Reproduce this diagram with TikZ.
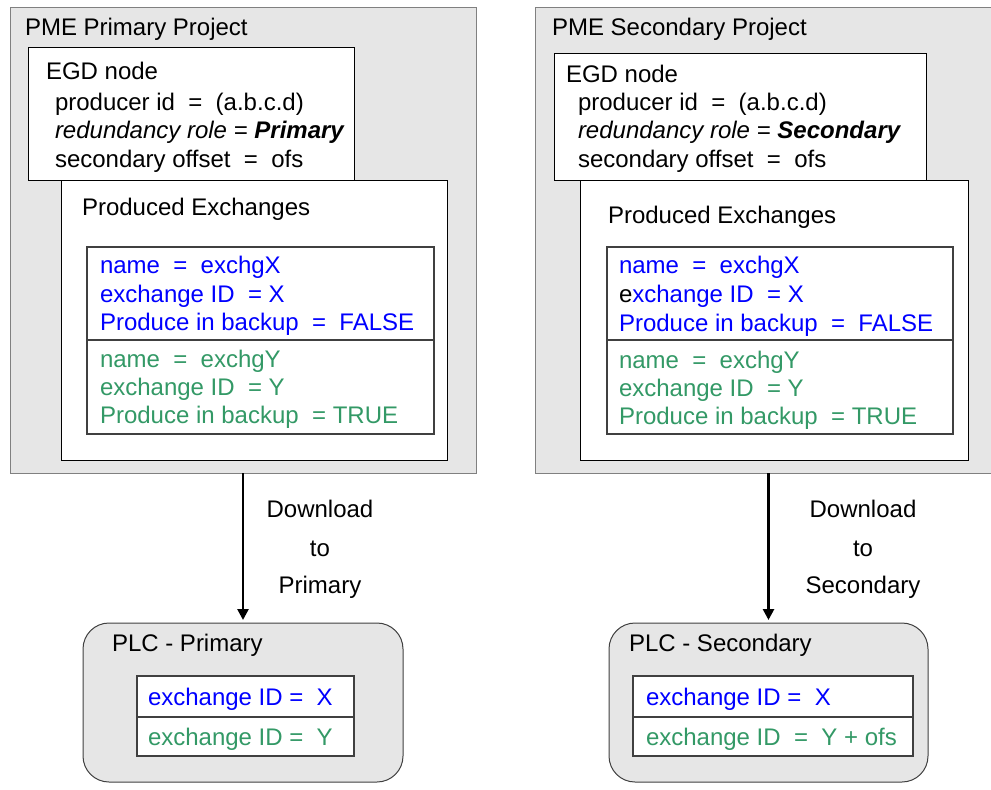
\documentclass[tikz,border=0pt]{standalone}
\usepackage{fontspec}
\setmainfont{Liberation Sans}
\usetikzlibrary{arrows.meta}
\definecolor{colX}{RGB}{0,0,255}
\definecolor{colY}{RGB}{51,153,102}
\definecolor{colBG}{RGB}{230,230,230}
\definecolor{colEdge}{RGB}{128,128,128}
\definecolor{colDark}{RGB}{64,64,64}

\begin{document}
\begin{tikzpicture}[x=1pt, y=-1pt,
    every node/.style={font=\fontsize{24}{28}\selectfont, inner sep=0pt, outer sep=0pt},
    txt/.style={anchor=base west},
    lbl/.style={anchor=base},
    prjbox/.style={anchor=north west, draw=colEdge, fill=colBG, line width=1pt},
    box/.style={anchor=north west, draw=black, fill=white, line width=1pt},
    tabbox/.style={anchor=north west, draw=colDark, fill=white, line width=1.3pt},
    plcbox/.style={anchor=north west, draw=colDark, fill=colBG, line width=1pt, rounded corners=26pt},
    arr/.style={-{Triangle[length=11pt,width=11pt]}, line width=2.6pt, shorten >=3pt}]
  \useasboundingbox (0,0) rectangle (991,790);
  \clip (0,0) rectangle (991,790);
  % --- Left: primary project ---
  \node[prjbox, minimum width=466pt, minimum height=466pt] (prjP) at (10,7) {};
  \node[txt] (prjPt) at (25,35) {PME Primary Project};
  \node[box, minimum width=326pt, minimum height=133pt] (egdP) at (28,47) {};
  \node[txt] (egdPt) at (46,79) {EGD node};
  \node[txt] (egdPa) at (55,110) {producer id~~=~~(a.b.c.d)};
  \node[txt] (egdPb) at (55,138) {\itshape redundancy role = \bfseries Primary};
  \node[txt] (egdPc) at (55,167) {secondary offset~~=~~ofs};
  \node[box, minimum width=386pt, minimum height=280pt] (pexP) at (61,180) {};
  \node[txt] (pexPt) at (82,215) {Produced Exchanges};
  \node[tabbox, minimum width=347pt, minimum height=93pt] (tabPx) at (87,247) {};
  \node[tabbox, minimum width=347pt, minimum height=94pt] (tabPy) at (87,340) {};
  \node[txt, colX] (xPa) at (100,273) {name~~=~~exchgX};
  \node[txt, colX] (xPb) at (100,302) {exchange ID~~= X};
  \node[txt, colX] (xPc) at (100,330) {Produce in backup~~=~~FALSE};
  \node[txt, colY] (yPa) at (100,367) {name~~=~~exchgY};
  \node[txt, colY] (yPb) at (100,395) {exchange ID~~= Y};
  \node[txt, colY] (yPc) at (100,423) {Produce in backup~~= TRUE};
  % --- Right: secondary project ---
  \node[prjbox, minimum width=468pt, minimum height=466pt] (prjS) at (535,7) {};
  \node[txt] (prjSt) at (552,35) {PME Secondary Project};
  \node[box, minimum width=372pt, minimum height=127pt] (egdS) at (554,53) {};
  \node[txt] (egdSt) at (566,82) {EGD node};
  \node[txt] (egdSa) at (578,110) {producer id~~=~~(a.b.c.d)};
  \node[txt] (egdSb) at (578,138) {\itshape redundancy role = \bfseries Secondary};
  \node[txt] (egdSc) at (578,167) {secondary offset~~=~~ofs};
  \node[box, minimum width=388pt, minimum height=280pt] (pexS) at (580,180) {};
  \node[txt] (pexSt) at (608,223) {Produced Exchanges};
  \node[tabbox, minimum width=346pt, minimum height=93pt] (tabSx) at (607,247) {};
  \node[tabbox, minimum width=346pt, minimum height=94pt] (tabSy) at (607,340) {};
  \node[txt, colX] (xSa) at (619,273) {name~~=~~exchgX};
  \node[txt, colX] (xSb) at (619,302) {{\color{black}e}xchange ID~~= X};
  \node[txt, colX] (xSc) at (619,331) {Produce in backup~~=~~FALSE};
  \node[txt, colY] (ySa) at (619,368) {name~~=~~exchgY};
  \node[txt, colY] (ySb) at (619,396) {exchange ID~~= Y};
  \node[txt, colY] (ySc) at (619,424) {Produce in backup~~= TRUE};
  % --- PLCs ---
  \node[plcbox, minimum width=320pt, minimum height=159pt] (plcP) at (83,623) {};
  \node[txt] (plcPt) at (112,651) {PLC - Primary};
  \node[tabbox, minimum width=217pt, minimum height=41pt] (plcPx) at (137,676) {};
  \node[tabbox, minimum width=217pt, minimum height=39pt] (plcPy) at (137,717) {};
  \node[txt, colX] (idPx) at (148,705) {exchange ID =~~X};
  \node[txt, colY] (idPy) at (148,745) {exchange ID =~~Y};
  \node[plcbox, minimum width=319pt, minimum height=159pt] (plcS) at (609,623) {};
  \node[txt] (plcSt) at (629,651) {PLC - Secondary};
  \node[tabbox, minimum width=280pt, minimum height=41pt] (plcSx) at (633,676) {};
  \node[tabbox, minimum width=280pt, minimum height=39pt] (plcSy) at (633,717) {};
  \node[txt, colX] (idSx) at (646,705) {exchange ID =~~X};
  \node[txt, colY] (idSy) at (646,745) {exchange ID~~=~~Y + ofs};
  % --- downloads ---
  \draw[arr] (prjP.south) -- (plcP.north);
  \draw[arr] (plcS.north |- prjS.south) -- (plcS.north);
  \node[lbl] (dlPa) at (320,517) {Download};
  \node[lbl] (dlPb) at (320,556) {to};
  \node[lbl] (dlPc) at (320,593) {Primary};
  \node[lbl] (dlSa) at (863,517) {Download};
  \node[lbl] (dlSb) at (863,556) {to};
  \node[lbl] (dlSc) at (863,593) {Secondary};
\end{tikzpicture}
\end{document}
